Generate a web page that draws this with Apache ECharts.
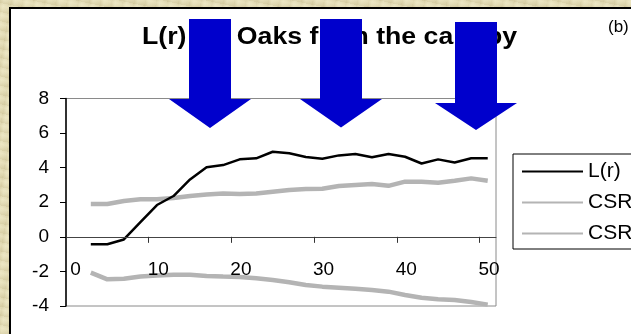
<!DOCTYPE html>
<html>
<head>
<meta charset="utf-8">
<script src="https://cdn.jsdelivr.net/npm/echarts@6/dist/echarts.min.js"></script>
<style>
  html, body { margin: 0; padding: 0; width: 631px; height: 334px; overflow: hidden; }
  body {
    background-color: #e3dbb4;
    background-image:
      repeating-linear-gradient(12deg, rgba(190,178,130,0.25) 0px, rgba(190,178,130,0) 3px, rgba(255,250,220,0.25) 6px, rgba(190,178,130,0) 9px),
      repeating-linear-gradient(100deg, rgba(170,160,110,0.18) 0px, rgba(255,255,235,0.15) 4px, rgba(170,160,110,0.1) 11px);
  }
  #sheet {
    position: absolute; left: 9px; top: 7px; width: 700px; height: 400px;
    background: #ffffff; border: 2px solid #000000;
  }
  #chart { position: absolute; left: 0; top: 0; width: 631px; height: 334px; }
</style>
</head>
<body>
<div id="sheet"></div>
<div id="chart"></div>
<script>
// Distance r (m) at which L(r) was evaluated
const distances = [3, 5, 7, 9, 11, 13, 15, 17, 19, 21, 23, 25, 27, 29, 31, 33, 35, 37, 39, 41, 43, 45, 47, 49, 51];
// Observed L(r) for oaks
const lValues = [-0.43, -0.43, -0.15, 0.85, 1.84, 2.36, 3.32, 4.03, 4.15, 4.48, 4.54, 4.92, 4.83, 4.62, 4.52, 4.71, 4.79, 4.60, 4.79, 4.63, 4.24, 4.48, 4.30, 4.54, 4.54];
// Complete spatial randomness envelope, upper bound
const csrUpper = [1.90, 1.90, 2.07, 2.17, 2.17, 2.25, 2.36, 2.45, 2.51, 2.47, 2.51, 2.61, 2.71, 2.76, 2.78, 2.94, 3.00, 3.05, 2.95, 3.19, 3.19, 3.13, 3.24, 3.38, 3.24];
// Complete spatial randomness envelope, lower bound
const csrLower = [-2.07, -2.46, -2.42, -2.30, -2.23, -2.19, -2.19, -2.27, -2.30, -2.32, -2.40, -2.50, -2.63, -2.79, -2.88, -2.94, -3.00, -3.07, -3.17, -3.36, -3.52, -3.61, -3.65, -3.77, -3.92];

const seriesNames = ['L(r)', 'CSR upper', 'CSR lower'];
const xTicks = [0, 10, 20, 30, 40, 50];
const titleText = 'L(r) for Oaks from the canopy';
const panelTag = '(b)';

const FONT = "'Liberation Sans', Arial, sans-serif";
const pairs = ys => distances.map((d, i) => [d, ys[i]]);

// Down-pointing block arrow: shaft [x0,x1] from top to yh, head [h0,h1] to tip
function arrow(x0, x1, top, yh, h0, h1, tipY) {
  const cx = (h0 + h1) / 2;
  return {
    type: 'polygon', z: 100,
    shape: { points: [[x0, top], [x1, top], [x1, yh], [h1, yh], [cx, tipY], [h0, yh], [x0, yh]] },
    style: { fill: '#0000cc' }
  };
}

const chart = echarts.init(document.getElementById('chart'), null, { renderer: 'canvas' });
chart.setOption({
  backgroundColor: 'transparent',
  animation: false,
  grid: {
    left: 66, top: 98.5, right: 135, bottom: 28,
    outerBoundsMode: 'none', containLabel: false,
    show: true, borderColor: '#8a8a8a', borderWidth: 1, backgroundColor: 'transparent'
  },
  xAxis: {
    type: 'value', min: 0, max: 52, interval: 10, z: 10,
    splitLine: { show: false },
    axisLine: { onZero: true, onZeroAxisIndex: 0, lineStyle: { color: '#444', width: 1 } },
    axisTick: { show: true, length: 6, customValues: xTicks, lineStyle: { color: '#333' } },
    // tick labels sit in the band between the zero line and the lower envelope
    axisLabel: {
      customValues: xTicks, margin: -46, padding: [0, 0, 0, 19],
      color: '#000', fontFamily: FONT, fontSize: 19
    }
  },
  yAxis: {
    type: 'value', min: -4, max: 8, interval: 2, z: 10,
    splitLine: { show: false },
    axisLine: { show: true, lineStyle: { color: '#000', width: 1.5 } },
    axisTick: { show: true, length: 6, lineStyle: { color: '#000' } },
    axisLabel: { margin: 17, color: '#000', fontFamily: FONT, fontSize: 19 }
  },
  legend: {
    orient: 'vertical', left: 513, top: 154,
    padding: [7, 60, 5, 8],
    itemWidth: 61, itemHeight: 14, itemGap: 10,
    itemStyle: { opacity: 0 },
    backgroundColor: '#fff', borderColor: '#000', borderWidth: 1,
    textStyle: { color: '#000', fontFamily: FONT, fontSize: 21, lineHeight: 21 },
    data: seriesNames
  },
  series: [
    {
      name: seriesNames[0], type: 'line', data: pairs(lValues),
      symbol: 'none', z: 5,
      lineStyle: { color: '#000', width: 2.5 }, itemStyle: { color: '#000' }
    },
    {
      name: seriesNames[1], type: 'line', data: pairs(csrUpper),
      symbol: 'none', z: 3,
      lineStyle: { color: '#b4b4b4', width: 4.5 }, itemStyle: { color: '#b4b4b4' }
    },
    {
      name: seriesNames[2], type: 'line', data: pairs(csrLower),
      symbol: 'none', z: 3,
      lineStyle: { color: '#b4b4b4', width: 4.5 }, itemStyle: { color: '#b4b4b4' }
    }
  ],
  graphic: [
    {
      type: 'text', x: 329.5, y: 38, scaleX: 1.16, z: 50,
      style: {
        text: titleText, fill: '#000', font: 'bold 23px ' + FONT,
        textAlign: 'center', textVerticalAlign: 'middle'
      }
    },
    {
      type: 'text', x: 608, y: 27, z: 50,
      style: {
        text: panelTag, fill: '#000', font: '17px ' + FONT,
        textAlign: 'left', textVerticalAlign: 'middle'
      }
    },
    arrow(189, 231, 19, 99, 169, 251, 128),
    arrow(320, 362, 19, 99, 300, 382, 127.5),
    arrow(455, 497, 22, 103, 435, 517, 130)
  ]
});
</script>
</body>
</html>
